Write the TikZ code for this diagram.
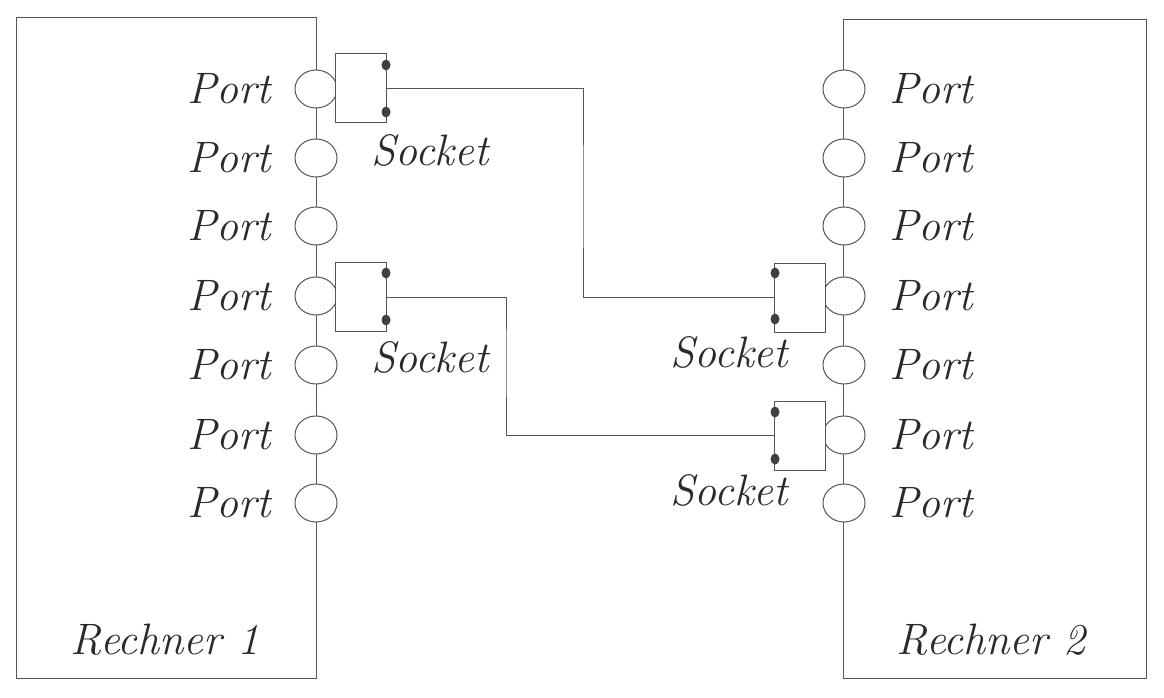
\documentclass[tikz,border=0pt]{standalone}
\usetikzlibrary{shapes.geometric}
\definecolor{ln}{HTML}{555555}
\definecolor{tx}{HTML}{2A2A2A}
\begin{document}
\begin{tikzpicture}[x=1pt,y=-1pt,
  every node/.style={inner sep=0pt,outer sep=0pt},
  lbl/.style={font=\fontsize{44}{46}\selectfont\itshape,text=tx},
  comp/.style={draw=ln,line width=1pt},
  port/.style={ellipse,draw=ln,fill=white,line width=1pt,minimum width=42pt,minimum height=38pt},
  sock/.style={rectangle,draw=ln,fill=white,line width=1pt,minimum width=51pt,minimum height=69pt},
  pin/.style={ellipse,fill=black!75,minimum width=9pt,minimum height=11pt},
  wire/.style={draw=ln,line width=1pt}]
\useasboundingbox (0,0) rectangle (1164,698);
% computers
\node[comp,rectangle,minimum width=300pt,minimum height=660pt] (r1) at (166,348) {};
\node[comp,rectangle,minimum width=303pt,minimum height=658pt] (r2) at (994.5,349) {};
\node[lbl] (r1t) at (165,640) {Rechner 1};
\node[lbl] (r2t) at (991,640) {Rechner 2};
% ports
\foreach \i/\y in {1/89,2/158,3/226,4/296,5/365,6/435,7/503}{
  \node[port] (lp\i) at (316,\y) {};
  \node[lbl,anchor=east] (lpt\i) at (271,\y) {Port};
  \node[port] (rp\i) at (844,\y) {};
  \node[lbl,anchor=west] (rpt\i) at (889,\y) {Port};
}
% sockets
\node[sock] (ls1) at (360.5,88.5) {};
\node[sock] (ls2) at (360.5,297) {};
\node[sock] (rs1) at (800,297.5) {};
\node[sock] (rs2) at (800,435.5) {};
\node[pin] (ls1a) at (386,65) {};
\node[pin] (ls1b) at (386,112) {};
\node[pin] (ls2a) at (386,273) {};
\node[pin] (ls2b) at (386,320) {};
\node[pin] (rs1a) at (775,273) {};
\node[pin] (rs1b) at (775,319) {};
\node[pin] (rs2a) at (775,412) {};
\node[pin] (rs2b) at (775,459) {};
\node[lbl] (lst1) at (430,150) {Socket};
\node[lbl] (lst2) at (430,357) {Socket};
\node[lbl] (rst1) at (729,352) {Socket};
\node[lbl] (rst2) at (729,490) {Socket};
% wires
\coordinate (c1) at (583,200);
\coordinate (c2) at (506,360);
\draw[wire] (ls1.east) -| (c1) |- (rs1.west);
\draw[wire] (ls2.east) -| (c2) |- (rs2.west);
\end{tikzpicture}
\end{document}
